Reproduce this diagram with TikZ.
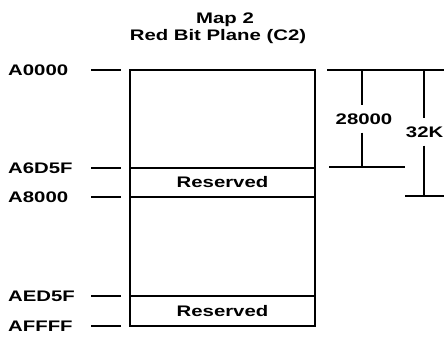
\documentclass[tikz,border=0pt]{standalone}
\usepackage{fontspec}
\setmainfont{Liberation Sans}[FakeStretch=1.33]
\usetikzlibrary{positioning,calc}
\tikzset{
  mem/.style={draw,line width=1.7pt,minimum width=185pt,inner sep=0pt,outer sep=0pt,
              font=\bfseries\fontsize{15.3}{17}\selectfont},
  addr/.style={anchor=west,font=\bfseries\fontsize{15.3}{17}\selectfont,inner sep=0pt},
  tick/.style={line width=1.2pt}
}

\begin{document}
\begin{tikzpicture}[x=1pt,y=1pt]
    \useasboundingbox (0,0) rectangle (444,343);
    % titre
    \node[addr,anchor=center] (titre1) at (225,323) {Map 2};
    \node[addr,anchor=center] (titre2) at (218,306) {Red Bit Plane (C2)};
    % colonne memoire
    \node[mem,minimum height=98pt,anchor=north west] (plan1) at (130,273) {};
    \node[mem,minimum height=29pt,below=0pt of plan1] (res1) {Reserved};
    \node[mem,minimum height=99pt,below=0pt of res1] (plan2) {};
    \node[mem,minimum height=30pt,below=0pt of plan2] (res2) {Reserved};
    % adresses
    \foreach \a/\p in {A0000/plan1.north west,A6D5F/res1.north west,A8000/res1.south west,
                       AED5F/res2.north west,AFFFF/res2.south west}{
      \node[addr] (\a) at (8,0 |- \p) {\a};
      \draw[tick] ($(\p)+(-39,0)$) -- ($(\p)+(-9,0)$);}
    % cotes
    \coordinate (haut28) at (362,273);
    \coordinate (bas28) at (362,176);
    \coordinate (haut32) at (424,273);
    \coordinate (bas32) at (424,147);
    \node[addr,anchor=center,inner ysep=8pt] (n28) at (364,224) {28000};
    \node[addr,anchor=east,inner ysep=8pt] (n32) at (443.5,211) {32K};
    \draw[tick] ($(plan1.north east)+(12,0)$) -- (444,273);
    \draw[tick] (haut28) -- (haut28 |- n28.north);
    \draw[tick] (n28.south -| bas28) -- (bas28);
    \draw[tick] ($(bas28)+(-33,0)$) -- ($(bas28)+(43,0)$);
    \draw[tick] (haut32) -- (haut32 |- n32.north);
    \draw[tick] (n32.south -| bas32) -- (bas32);
    \draw[tick] ($(bas32)+(-19,0)$) -- (444,147);
\end{tikzpicture}
\end{document}
